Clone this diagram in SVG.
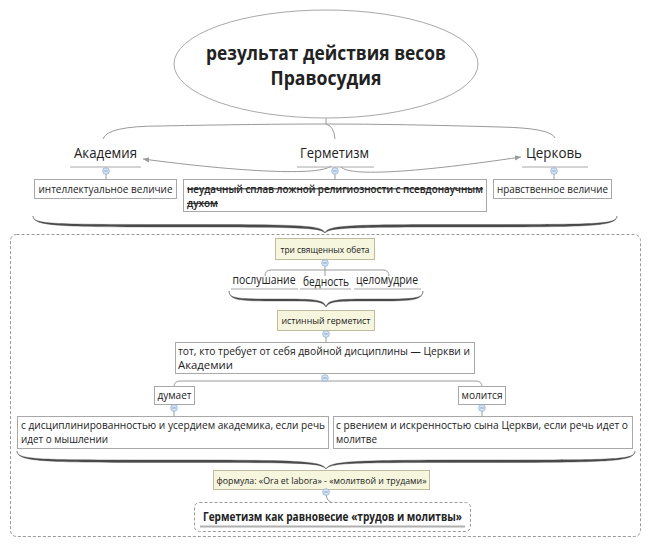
<svg xmlns="http://www.w3.org/2000/svg" width="650" height="548" viewBox="0 0 650 548">
<defs>
<style>
.t{font-family:"Open Sans","Noto Sans","DejaVu Sans",sans-serif;fill:#222}
.box{fill:#fff;stroke:#a8a8a8;stroke-width:1}
.ybox{fill:#f6f6de;stroke:#bdbd9c;stroke-width:1}
.conn{fill:none;stroke:#9a9a9a;stroke-width:1}
.ul{fill:none;stroke:#a8a8a8;stroke-width:1.2}
.brace{fill:#4a4a4a;stroke:#4a4a4a;stroke-width:0.4}
.dash{fill:none;stroke:#9a9a9a;stroke-width:1;stroke-dasharray:3 2}
.col{fill:#d7e5f5;stroke:#8eaed6;stroke-width:0.8}
.colm{stroke:#6f8fb8;stroke-width:0.8}
</style>
<marker id="ah" viewBox="0 0 8 8" refX="7" refY="4" markerWidth="7" markerHeight="7" orient="auto" markerUnits="userSpaceOnUse">
<path d="M0,1 L7,4 L0,7 Z" fill="#9a9a9a"/>
</marker>
<g id="collapse"><circle class="col" cx="0" cy="0" r="3.3"/><line class="colm" x1="-1.8" y1="0" x2="1.8" y2="0"/></g>
</defs>

<g id="connectors">
<path class="conn" d="M326,118 L326,124"/>
<path class="conn" d="M103,139 Q107,126 160,126 Q260,124 326,124 Q400,124 500,127 Q551,128 555,138"/>
<path class="conn" d="M326,124 Q334,126 335,139"/>
<path class="conn" d="M331,166 C320,176 240,172 143,159" marker-end="url(#ah)"/>
<path class="conn" d="M341,167 C350,177 420,172 521,157" marker-end="url(#ah)"/>
<path class="conn" d="M106,174 L106,180"/>
<path class="conn" d="M335,174 L335,180"/>
<path class="conn" d="M554,174 L554,180"/>
<path class="brace" d="M33,216 C33,224.5 53,224.5 179,224.5 C300,224.5 322,225 325,233 C320,227.5 300,227 179,227 C53,227 34,226 33,216 Z"/>
<path class="brace" d="M617,216 C617,224.5 597,224.5 471,224.5 C350,224.5 328,225 325,233 C330,227.5 350,227 471,227 C597,227 616,226 617,216 Z"/>
<path class="conn" d="M325,266 L325,276"/>
<path class="conn" d="M265,276 Q265,270 271,270 L383,270 Q389,270 389,276"/>
<path class="brace" d="M229,291 C229,299 239,299 277.5,299 C316,299 324,299.5 326,307 C322,301 316,301 277.5,301 C239,301 230,300.5 229,291 Z"/>
<path class="brace" d="M423,291 C423,299 413,299 374.5,299 C336,299 328,299.5 326,307 C330,301 336,301 374.5,301 C413,301 422,300.5 423,291 Z"/>
<path class="conn" d="M326,337 L326,343"/>
<path class="conn" d="M325,376 L325,381"/>
<path class="conn" d="M174,387 Q174,381 180,381 L476,381 Q482,381 482,387"/>
<path class="conn" d="M174,410 L174,417"/>
<path class="conn" d="M482,410 L482,417"/>
<path class="brace" d="M17,451 C17,460 37,460 171,460 C300,460 322,461 326,469 C321,462.5 300,462.5 171,462.5 C37,462.5 18,461.5 17,451 Z"/>
<path class="brace" d="M635,451 C635,460 615,460 481,460 C352,460 330,461 326,469 C331,462.5 352,462.5 481,462.5 C615,462.5 634,461.5 635,451 Z"/>
<path class="conn" d="M326,495 Q326,500 332,503"/>
</g>

<g id="title">
<ellipse cx="326" cy="64" rx="152" ry="54" fill="#fff" stroke="#a8a8a8" stroke-width="1"/>
<text class="t" x="326" y="60" font-size="19" font-weight="bold" text-anchor="middle" fill="#333" textLength="240" lengthAdjust="spacingAndGlyphs">результат действия весов</text>
<text class="t" x="326" y="85" font-size="19" font-weight="bold" text-anchor="middle" fill="#333" textLength="111" lengthAdjust="spacingAndGlyphs">Правосудия</text>
</g>

<g id="frame"><rect class="dash" x="10.5" y="234.5" width="630" height="302" rx="6"/></g>

<g id="akademia">
<text class="t" x="105.5" y="158" font-size="14" text-anchor="middle" textLength="63" lengthAdjust="spacingAndGlyphs">Академия</text>
<path class="ul" d="M70,167 L141,167"/>
<use href="#collapse" x="106" y="171"/>
</g>
<g id="germetizm">
<text class="t" x="334.5" y="158" font-size="14" text-anchor="middle" textLength="69" lengthAdjust="spacingAndGlyphs">Герметизм</text>
<path class="ul" d="M297,167 L374,167"/>
<use href="#collapse" x="335" y="171"/>
</g>
<g id="tserkov">
<text class="t" x="554" y="158" font-size="14" text-anchor="middle" textLength="56" lengthAdjust="spacingAndGlyphs">Церковь</text>
<path class="ul" d="M522,167 L588,167"/>
<use href="#collapse" x="554" y="171"/>
</g>

<g id="n-intel">
<rect class="box" x="34.5" y="179.5" width="142" height="19"/>
<text class="t" x="105.5" y="193" font-size="10.8" text-anchor="middle" textLength="134" lengthAdjust="spacingAndGlyphs">интеллектуальное величие</text>
</g>
<g id="n-splav">
<rect class="box" x="183.5" y="179.5" width="303" height="32"/>
<text class="t" x="187" y="192.5" font-size="10.3" font-weight="600" text-decoration="line-through" textLength="296" lengthAdjust="spacingAndGlyphs">неудачный сплав ложной религиозности с псевдонаучным</text>
<text class="t" x="187" y="207" font-size="10.3" font-weight="600" text-decoration="line-through" textLength="31" lengthAdjust="spacingAndGlyphs">духом</text>
</g>
<g id="n-nrav">
<rect class="box" x="493.5" y="179.5" width="118" height="19"/>
<text class="t" x="552.5" y="193" font-size="10.8" text-anchor="middle" textLength="111" lengthAdjust="spacingAndGlyphs">нравственное величие</text>
</g>

<g id="n-tri">
<rect class="ybox" x="275.5" y="238.5" width="99" height="21"/>
<text class="t" x="325" y="253" font-size="9.6" text-anchor="middle" textLength="89" lengthAdjust="spacingAndGlyphs">три священных обета</text>
<use href="#collapse" x="325" y="263"/>
</g>
<g id="n-posl">
<text class="t" x="264" y="284" font-size="12" text-anchor="middle" textLength="63" lengthAdjust="spacingAndGlyphs">послушание</text>
<path class="ul" d="M231,289 L298,289"/>
</g>
<g id="n-bedn">
<text class="t" x="326" y="286" font-size="12" text-anchor="middle" textLength="46" lengthAdjust="spacingAndGlyphs">бедность</text>
<path class="ul" d="M300,289 L351,289"/>
</g>
<g id="n-tselo">
<text class="t" x="387" y="284" font-size="12" text-anchor="middle" textLength="62" lengthAdjust="spacingAndGlyphs">целомудрие</text>
<path class="ul" d="M354,289 L421,289"/>
</g>

<g id="n-istin">
<rect class="ybox" x="277.5" y="310.5" width="97" height="20"/>
<text class="t" x="326" y="324" font-size="9.6" text-anchor="middle" textLength="89" lengthAdjust="spacingAndGlyphs">истинный герметист</text>
<use href="#collapse" x="326" y="334"/>
</g>

<g id="n-tot">
<rect class="box" x="175.5" y="342.5" width="299" height="31"/>
<text class="t" x="178" y="355" font-size="10.8" textLength="292" lengthAdjust="spacingAndGlyphs">тот, кто требует от себя двойной дисциплины — Церкви и</text>
<text class="t" x="178" y="369" font-size="10.8" textLength="55" lengthAdjust="spacingAndGlyphs">Академии</text>
<use href="#collapse" x="325" y="378"/>
</g>

<g id="n-dumaet">
<rect class="box" x="154.5" y="386.5" width="40" height="18"/>
<text class="t" x="174.5" y="399" font-size="10.8" text-anchor="middle" textLength="34" lengthAdjust="spacingAndGlyphs">думает</text>
<use href="#collapse" x="174" y="408"/>
</g>
<g id="n-molitsya">
<rect class="box" x="458.5" y="386.5" width="47" height="18"/>
<text class="t" x="482" y="399" font-size="10.8" text-anchor="middle" textLength="41" lengthAdjust="spacingAndGlyphs">молится</text>
<use href="#collapse" x="482" y="408"/>
</g>

<g id="n-discipl">
<rect class="box" x="17.5" y="416.5" width="311" height="32"/>
<text class="t" x="21" y="429" font-size="10.8" textLength="304" lengthAdjust="spacingAndGlyphs">с дисциплинированностью и усердием академика, если речь</text>
<text class="t" x="21" y="443" font-size="10.8" textLength="87" lengthAdjust="spacingAndGlyphs">идет о мышлении</text>
</g>
<g id="n-rvenie">
<rect class="box" x="333.5" y="416.5" width="299" height="32"/>
<text class="t" x="336" y="429" font-size="10.8" textLength="292" lengthAdjust="spacingAndGlyphs">с рвением и искренностью сына Церкви, если речь идет о</text>
<text class="t" x="336" y="443" font-size="10.8" textLength="41" lengthAdjust="spacingAndGlyphs">молитве</text>
</g>

<g id="n-formula">
<rect class="ybox" x="213.5" y="470.5" width="216" height="19"/>
<text class="t" x="321.5" y="484" font-size="9.8" text-anchor="middle" textLength="210" lengthAdjust="spacingAndGlyphs">формула: «Ora et labora» - «молитвой и трудами»</text>
<use href="#collapse" x="326" y="492"/>
</g>

<g id="n-ravnoves">
<rect class="dash" x="194.5" y="502.5" width="276" height="29" rx="5"/>
<text class="t" x="332.5" y="521" font-size="12.2" font-weight="bold" text-anchor="middle" fill="#111" textLength="259" lengthAdjust="spacingAndGlyphs">Герметизм как равновесие «трудов и молитвы»</text>
<path d="M200,526.5 L465,526.5" stroke="#b0b0b0" stroke-width="2" fill="none"/>
</g>
</svg>
